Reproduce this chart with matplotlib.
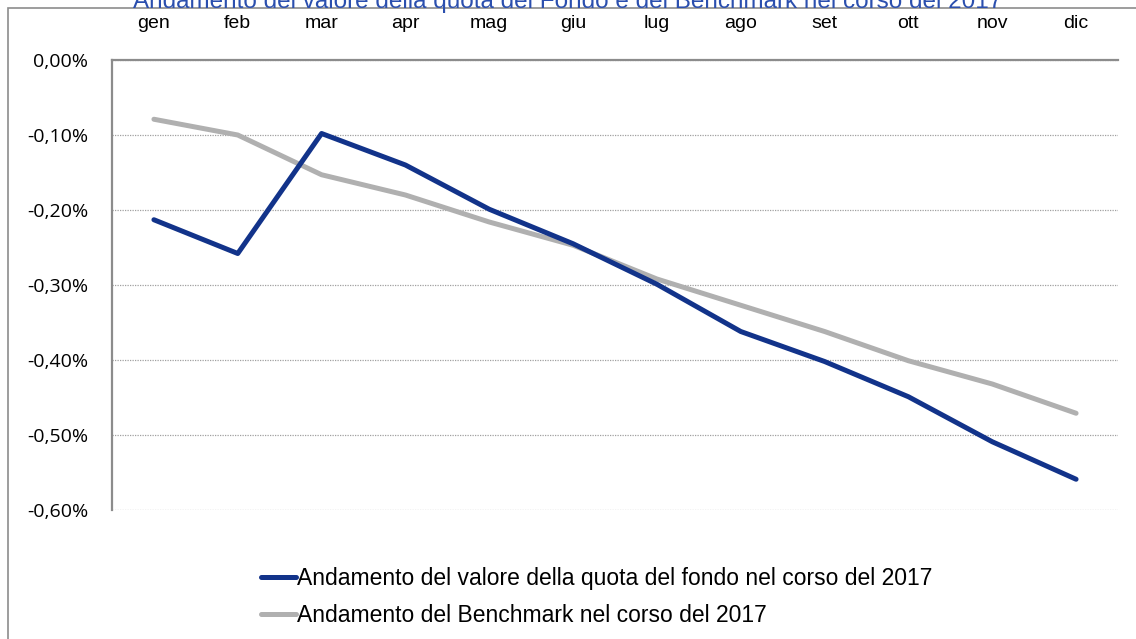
import matplotlib
matplotlib.use("Agg")
import matplotlib.pyplot as plt
from matplotlib.ticker import FuncFormatter
from matplotlib.patches import Rectangle

# data (values in %)
mesi = ["gen", "feb", "mar", "apr", "mag", "giu", "lug", "ago", "set", "ott", "nov", "dic"]
fondo = [-0.213, -0.258, -0.098, -0.140, -0.199, -0.245, -0.299, -0.362, -0.402, -0.449, -0.509, -0.559]
benchmark = [-0.079, -0.100, -0.153, -0.180, -0.216, -0.247, -0.292, -0.327, -0.362, -0.401, -0.432, -0.471]
yticks = [0.0, -0.1, -0.2, -0.3, -0.4, -0.5, -0.6]

titolo = "Andamento del valore della quota del Fondo e del Benchmark nel corso del 2017"
lab_fondo = "Andamento del valore della quota del fondo nel corso del 2017"
lab_bench = "Andamento del Benchmark nel corso del 2017"

narrow = ["Liberation Sans", "DejaVu Sans"]

fig = plt.figure(figsize=(11.36, 6.39), dpi=100)
W, H = 1136, 639

# outer chart frame (left and top edges visible)
fig.patches.append(Rectangle((8 / W, -0.1), 1.2, 1.1 - 8 / H, transform=fig.transFigure,
                             fill=False, edgecolor="#8c8c8c", linewidth=1.2))

fig.text(0.5, 1 - 8 / H, titolo, ha="center", va="baseline", color="#2b4fae",
         fontsize=17.5, family=narrow)

ax = fig.add_axes([112 / W, 1 - 510 / H, (1118 - 112) / W, (510 - 60) / H])
x = list(range(len(mesi)))
ax.plot(x, fondo, color="#12338a", linewidth=3.6, solid_capstyle="round",
        solid_joinstyle="round", label=lab_fondo, zorder=3)
ax.plot(x, benchmark, color="#b0b0b0", linewidth=3.6, solid_capstyle="round",
        solid_joinstyle="round", label=lab_bench, zorder=2)

ax.set_xlim(-0.5, len(mesi) - 0.5)
ax.set_ylim(-0.6, 0.0)
ax.set_yticks(yticks)
ax.yaxis.set_major_formatter(FuncFormatter(lambda v, p: ("%.2f%%" % v).replace(".", ",")))
ax.set_xticks(x)
ax.set_xticklabels(mesi, family=narrow, fontsize=14)
ax.xaxis.tick_top()
ax.tick_params(axis="x", length=0, pad=20)
ax.tick_params(axis="y", length=0, pad=17, labelsize=14)
for t in ax.get_yticklabels():
    t.set_family(["Open Sans", "DejaVu Sans"])

ax.grid(axis="y", linestyle=(0, (1, 1)), color="#a0a0a0", linewidth=0.9)
for s in ["right", "bottom"]:
    ax.spines[s].set_visible(False)
for s in ["left", "top"]:
    ax.spines[s].set_color("#8c8c8c")
    ax.spines[s].set_linewidth(1.6)

leg = fig.legend(loc="upper left", bbox_to_anchor=(252 / W, 1 - 558 / H), frameon=False,
                 prop={"family": narrow, "size": 16.5}, handlelength=1.5, handletextpad=0.05,
                 labelspacing=0.6, borderaxespad=0)

fig.savefig("out.png", dpi=100)
